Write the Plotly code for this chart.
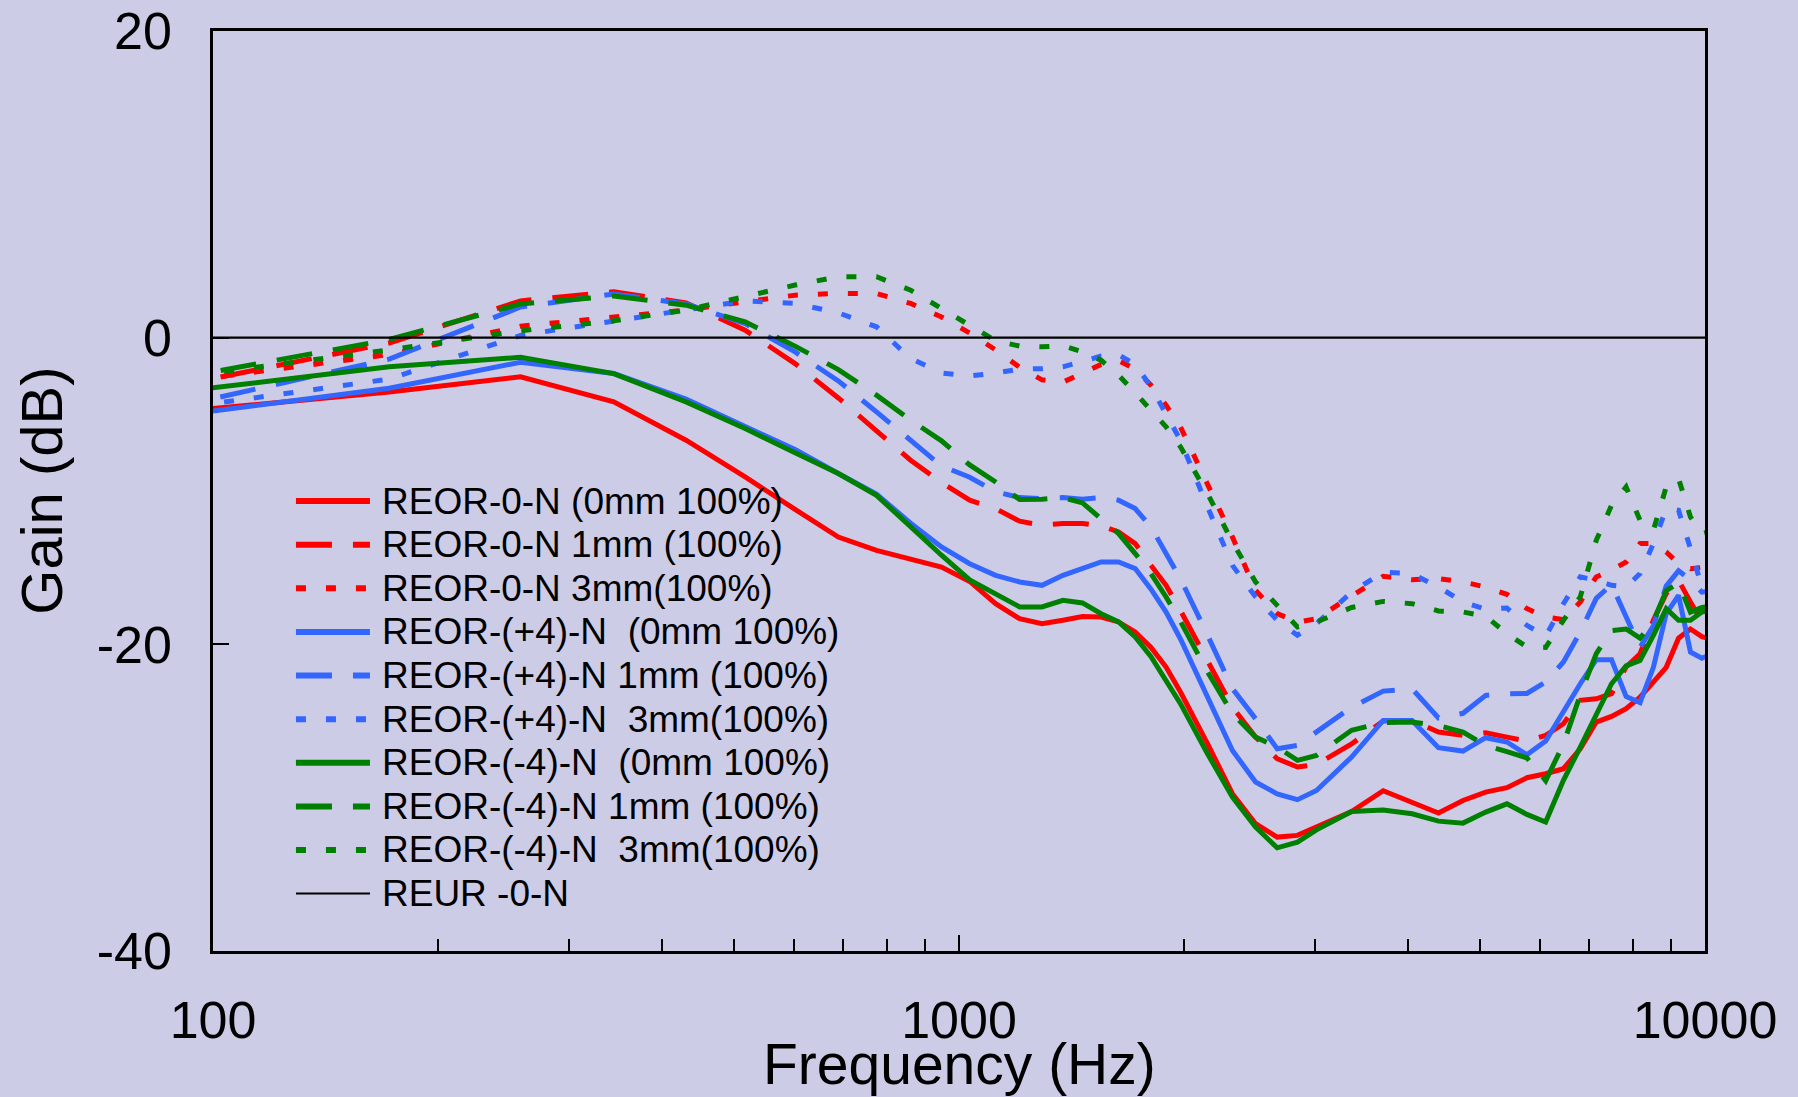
import plotly.graph_objects as go

# Frequencies (Hz) of the data points
FREQ = [86.13, 172.27, 258.40, 344.53, 430.66, 516.80, 602.93, 689.06, 775.20, 861.33,
        947.46, 1033.59, 1119.73, 1205.86, 1291.99, 1378.13, 1464.26, 1550.39, 1636.52, 1722.66,
        1808.79, 1894.92, 1981.05, 2153.32, 2325.59, 2497.85, 2670.12, 2842.38, 3014.65, 3359.18,
        3703.71, 4048.24, 4392.77, 4737.30, 5081.84, 5426.37, 5770.90, 6115.43, 6459.96, 6804.49,
        7149.02, 7493.55, 7838.09, 8182.62, 8527.15, 8871.68, 9216.21, 9560.74, 9905.27, 10249.80]

# Gain (dB) series
REOR_0_0MM = [-4.91, -3.55, -2.55, -4.19, -6.69, -9.08, -11.2, -13.0, -13.87, -14.4,
              -14.96, -15.9, -17.35, -18.33, -18.65, -18.43, -18.18, -18.22, -18.54, -19.2,
              -20.2, -21.48, -23.11, -26.48, -29.74, -31.7, -32.57, -32.46, -31.92, -30.9,
              -29.55, -30.29, -31.0, -30.18, -29.64, -29.35, -28.7, -28.44, -28.11, -26.81,
              -25.07, -24.7, -24.2, -23.44, -22.46, -21.5, -19.6, -19.0, -19.5, -19.7]
REOR_0_1MM = [-3.30, -0.35, 2.4, 2.99, 2.27, 0.49, -1.69, -3.93, -6.08, -7.99,
              -9.45, -10.6, -11.15, -11.97, -12.23, -12.12, -12.12, -12.28, -12.67, -13.43,
              -14.85, -16.15, -17.8, -21.0, -24.09, -26.05, -27.46, -28.0, -27.83, -26.5,
              -25.0, -24.96, -25.72, -25.94, -25.77, -26.05, -26.31, -25.94, -25.18, -23.65,
              -23.55, -23.22, -21.48, -20.61, -18.43, -16.69, -15.82, -17.24, -18.54, -18.8]
REOR_0_3MM = [-3.01, -1.1, 0.75, 1.3, 1.8, 2.34, 2.77, 2.89, 2.88, 2.23,
              1.35, 0.3, -0.8, -1.93, -2.75, -2.9, -2.3, -1.75, -1.5, -2.05,
              -3.1, -4.4, -5.82, -9.5, -13.0, -16.48, -18.0, -18.55, -18.33, -16.85,
              -15.56, -15.78, -15.71, -15.93, -16.26, -16.74, -17.67, -18.22, -18.39, -17.24,
              -15.6, -15.17, -14.63, -13.43, -13.43, -13.98, -14.74, -15.07, -14.96, -14.9]
REOR_P4_0MM = [-5.19, -3.3, -1.6, -2.34, -4.0, -5.8, -7.3, -8.86, -10.2, -12.1,
               -13.65, -14.74, -15.5, -15.93, -16.15, -15.5, -15.06, -14.63, -14.63, -15.06,
               -16.4, -17.9, -19.65, -23.44, -26.92, -28.98, -29.75, -30.13, -29.53, -27.35,
               -24.96, -24.96, -26.74, -26.96, -26.09, -26.37, -27.2, -26.3, -24.31, -22.57,
               -21.0, -21.0, -23.4, -23.8, -21.5, -18.0, -16.8, -20.5, -20.9, -20.6]
REOR_P4_1MM = [-4.68, -1.4, 2.0, 2.85, 2.2, 0.92, -0.93, -2.82, -4.84, -6.69,
               -8.37, -9.1, -10.05, -10.43, -10.5, -10.43, -10.54, -10.43, -10.6, -11.15,
               -12.34, -14.08, -15.72, -19.4, -22.89, -24.85, -26.81, -26.59, -25.72, -24.1,
               -23.05, -22.9, -24.8, -24.5, -23.33, -23.22, -23.2, -22.46, -21.15, -19.2,
               -17.0, -16.1, -18.2, -20.2, -18.8, -16.2, -15.2, -15.8, -16.6, -16.5]
REOR_P4_3MM = [-4.74, -2.7, 0.15, 1.1, 1.8, 2.4, 2.23, 1.62, 0.71, -1.36,
               -2.3, -2.5, -2.3, -2.05, -2.02, -1.9, -1.55, -1.2, -1.12, -1.75,
               -3.2, -5.0, -6.69, -11.04, -14.85, -16.91, -18.43, -19.41, -18.65, -16.6,
               -15.3, -15.39, -16.26, -17.24, -17.72, -17.63, -18.76, -19.48, -17.35, -15.6,
               -15.82, -16.15, -16.26, -15.39, -13.43, -11.15, -11.26, -13.76, -16.26, -16.5]
REOR_M4_0MM = [-3.65, -1.9, -1.28, -2.34, -4.19, -5.93, -7.5, -8.86, -10.28, -12.35,
               -14.19, -15.8, -16.7, -17.56, -17.56, -17.13, -17.3, -18.0, -18.54, -19.52,
               -20.8, -22.31, -23.87, -27.13, -29.96, -31.92, -33.27, -32.9, -32.1, -30.9,
               -30.8, -31.05, -31.53, -31.66, -30.94, -30.4, -31.09, -31.59, -28.87, -26.7,
               -24.53, -22.57, -21.4, -21.05, -19.41, -17.67, -18.43, -18.43, -17.89, -17.8]
REOR_M4_1MM = [-2.81, -0.12, 2.2, 2.72, 2.12, 1.03, -0.55, -2.08, -3.75, -5.38,
               -6.73, -8.3, -9.41, -10.56, -10.54, -10.43, -10.78, -11.86, -12.78, -14.08,
               -15.39, -16.91, -18.5, -21.8, -24.52, -26.05, -26.7, -27.57, -27.24, -25.6,
               -25.1, -25.07, -25.3, -25.72, -26.6, -27.0, -27.4, -28.9, -26.5, -23.3,
               -20.6, -19.1, -19.0, -19.6, -18.5, -16.5, -16.0, -17.9, -17.6, -17.5]
REOR_M4_3MM = [-2.71, -0.8, 0.45, 1.1, 1.8, 2.66, 3.43, 3.97, 3.97, 3.1,
               1.9, 0.8, -0.2, -0.55, -0.6, -0.52, -0.93, -1.47, -2.45, -3.6,
               -4.73, -5.82, -7.12, -10.17, -13.32, -15.93, -17.46, -18.87, -18.54, -17.6,
               -17.2, -17.35, -17.82, -17.89, -18.17, -19.3, -20.17, -20.2, -18.43, -16.91,
               -13.22, -10.93, -9.73, -11.91, -12.56, -9.73, -9.19, -11.69, -12.78, -12.6]
REUR_FREQ = [100, 10000]
REUR_GAIN = [0.0, 0.0]

X_TICKS = [100, 1000, 10000]
X_MINOR = [200, 300, 400, 500, 600, 700, 800, 900, 2000, 3000, 4000, 5000, 6000, 7000, 8000, 9000]
Y_TICKS = [-40, -20, 0, 20]
Y_TICKTEXT = ["-40", "-20", "0", "20"]

RED, BLUE, GREEN = "#FF0000", "#3366FF", "#008000"
DASH, DOT = "36px,21px", "10px,20px"
FONT = "Arial, Liberation Sans, sans-serif"
BG = "rgb(204,204,230)"

series = [
    ("REOR-0-N (0mm 100%)", REOR_0_0MM, RED, "solid"),
    ("REOR-0-N 1mm (100%)", REOR_0_1MM, RED, DASH),
    ("REOR-0-N 3mm(100%)", REOR_0_3MM, RED, DOT),
    ("REOR-(+4)-N  (0mm 100%)", REOR_P4_0MM, BLUE, "solid"),
    ("REOR-(+4)-N 1mm (100%)", REOR_P4_1MM, BLUE, DASH),
    ("REOR-(+4)-N  3mm(100%)", REOR_P4_3MM, BLUE, DOT),
    ("REOR-(-4)-N  (0mm 100%)", REOR_M4_0MM, GREEN, "solid"),
    ("REOR-(-4)-N 1mm (100%)", REOR_M4_1MM, GREEN, DASH),
    ("REOR-(-4)-N  3mm(100%)", REOR_M4_3MM, GREEN, DOT),
]

fig = go.Figure()
for name, vals, color, dash in series:
    fig.add_trace(go.Scatter(x=FREQ, y=vals, mode="lines", name=name, showlegend=False,
                             line=dict(color=color, width=5, dash=dash)))
fig.add_trace(go.Scatter(x=REUR_FREQ, y=REUR_GAIN, mode="lines", name="REUR -0-N",
                         showlegend=False, line=dict(color="black", width=2.3)))

# Manual legend (line samples + text) inside the plot area
legend_items = [(n, c, d, 6) for n, _, c, d in series] + [("REUR -0-N", "black", "solid", 2)]
x0, x1, xt = 0.0556, 0.1052, 0.1119
y_first, y_step = 0.4890, 0.0474
shapes, annotations = [], []
for i, (name, color, dash, w) in enumerate(legend_items):
    yy = y_first - i * y_step
    shapes.append(dict(type="line", xref="paper", yref="paper", x0=x0, x1=x1, y0=yy, y1=yy,
                       line=dict(color=color, width=w, dash=dash)))
    annotations.append(dict(xref="paper", yref="paper", x=xt, y=yy, xanchor="left", yanchor="middle",
                            text=name.replace("  ", "\u00a0\u00a0"), showarrow=False,
                            font=dict(family=FONT, size=37, color="black")))

annotations.append(dict(xref="paper", yref="paper", x=0.5, y=-0.1225, xanchor="center", yanchor="middle",
                        text="Frequency (Hz)", showarrow=False, font=dict(family=FONT, size=57, color="black")))
annotations.append(dict(xref="paper", yref="paper", x=-0.1155, y=0.5, xanchor="center", yanchor="middle",
                        text="Gain (dB)", textangle=-90, showarrow=False,
                        font=dict(family=FONT, size=58, color="black")))

fig.update_layout(
    width=1798, height=1097,
    margin=dict(l=213, r=93, t=31, b=146, autoexpand=False),
    paper_bgcolor=BG, plot_bgcolor=BG,
    shapes=shapes, annotations=annotations,
    xaxis=dict(type="log", range=[2, 4], tickmode="array", tickvals=X_TICKS,
               ticktext=[str(v) for v in X_TICKS],
               ticks="inside", ticklen=16, tickwidth=1.5, tickcolor="black",
               minor=dict(ticks="inside", ticklen=12, tickwidth=1.5, tickcolor="black",
                          tickmode="array", tickvals=X_MINOR, showgrid=False),
               showline=True, linecolor="black", linewidth=2.5, mirror=True,
               showgrid=False, zeroline=False, ticklabelstandoff=22,
               tickfont=dict(family=FONT, size=52, color="black")),
    yaxis=dict(range=[-40, 20], tickmode="array", tickvals=Y_TICKS, ticktext=Y_TICKTEXT,
               ticks="inside", ticklen=16, tickwidth=1.5, tickcolor="black",
               showline=True, linecolor="black", linewidth=2.5, mirror=True,
               showgrid=False, zeroline=False, ticklabelstandoff=28,
               tickfont=dict(family=FONT, size=52, color="black")),
)

fig.write_html("out.html")
